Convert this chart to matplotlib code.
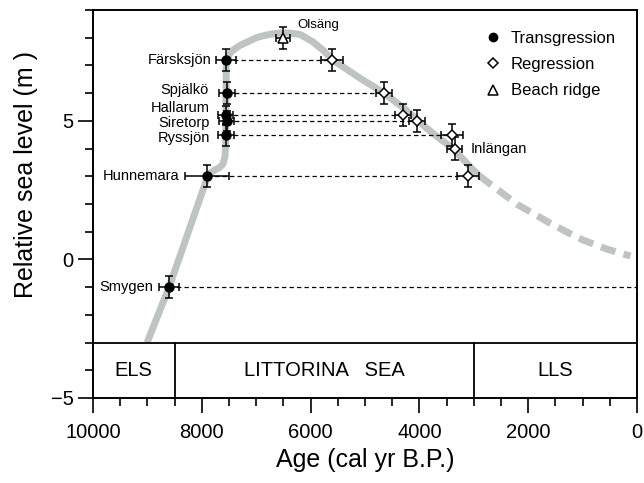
import matplotlib
matplotlib.use('Agg')

from matplotlib import pyplot as plt
from matplotlib.lines import Line2D
import numpy as np

plt.rcParams['font.family'] = ['Liberation Sans', 'DejaVu Sans']

# transgression sites (filled circles)
trans_names = ['Färsksjön', 'Spjälkö', 'Hallarum', 'Siretorp', 'Ryssjön', 'Hunnemara', 'Smygen']
trans_age = [7560, 7540, 7560, 7540, 7560, 7900, 8600]
trans_level = [7.2, 6.0, 5.2, 5.0, 4.5, 3.0, -1.0]
trans_xerr = [180, 150, 140, 140, 150, 400, 180]
trans_yerr = [0.4, 0.4, 0.35, 0.35, 0.4, 0.4, 0.4]
# regression age of the same site (0 -> line runs to present)
trans_pair_age = [5600, 4650, 4300, 4050, 3400, 3100, 0]

# regression sites (open diamonds)
regr_age = [5600, 4650, 4300, 4050, 3400, 3350, 3100]
regr_level = [7.2, 6.0, 5.2, 5.0, 4.5, 4.0, 3.0]
regr_xerr = [200, 150, 150, 145, 200, 140, 200]
regr_yerr = [0.4, 0.4, 0.4, 0.4, 0.4, 0.4, 0.4]

# beach ridge (open triangle)
ridge_age = [6500]
ridge_level = [8.0]
ridge_xerr = [130]
ridge_yerr = [0.4]

# sea-level curve
curve_age = [9006, 8600, 7900, 7840, 7760, 7670, 7610, 7575, 7560, 7555, 7550, 7520, 7480,
             7426, 7300, 7169, 7000, 6875, 6700, 6563, 6400, 6195, 5956, 5772, 5588,
             5350, 5092, 4870, 4650, 4300, 4050, 3860, 3600, 3382, 3200, 3015, 2900]
curve_level = [-3.0, -1.0, 2.95, 3.12, 3.23, 3.32, 3.45, 3.7, 4.2, 5.5, 7.1, 7.3, 7.45,
               7.55, 7.72, 7.84, 8.0, 8.07, 8.14, 8.17, 8.17, 8.12, 7.85, 7.55, 7.19,
               6.88, 6.54, 6.27, 6.0, 5.48, 5.06, 4.72, 4.32, 4.0, 3.62, 3.24, 3.02]
tail_age = [2900, 2206, 1599, 1250, 993, 551, 120]
tail_level = [3.02, 1.99, 1.31, 0.95, 0.70, 0.37, 0.12]

periods = ['ELS', 'LITTORINA   SEA', 'LLS']
period_bounds = [10000, 8500, 3000, 0]

fig = plt.figure(figsize=(6.44, 4.83), dpi=100)
ax = fig.add_axes([0.1444, 0.176, 0.8447, 0.8033])

gray = '#bec4c4'
ax.plot(curve_age, curve_level, color=gray, lw=5, solid_capstyle='butt',
        solid_joinstyle='round', zorder=1)
ax.plot(tail_age, tail_level, color=gray, lw=5, dashes=(2.2, 1.2), zorder=1)

for a0, a1, lev in zip(trans_age, trans_pair_age, trans_level):
    ax.plot([a0, a1], [lev, lev], color='black', lw=0.9, dashes=(3.5, 2.5), zorder=2)

ekw = dict(ecolor='black', elinewidth=1.1, capsize=3, capthick=1.1, zorder=3)
ax.errorbar(trans_age, trans_level, xerr=trans_xerr, yerr=trans_yerr, fmt='o',
            color='black', markersize=6.5, **ekw)
ax.errorbar(regr_age, regr_level, xerr=regr_xerr, yerr=regr_yerr, fmt='D',
            mfc='white', mec='black', mew=1.1, markersize=5, **ekw)
ax.errorbar(ridge_age, ridge_level, xerr=ridge_xerr, yerr=ridge_yerr, fmt='^',
            mfc='white', mec='black', mew=1.1, markersize=7, **ekw)

# site labels
label_pos = {
    'Färsksjön': (7830, 7.2), 'Spjälkö': (7868, 6.1), 'Hallarum': (7850, 5.46),
    'Siretorp': (7850, 4.92), 'Ryssjön': (7850, 4.38), 'Hunnemara': (8419, 3.0),
    'Smygen': (8897, -1.0),
}
for name in trans_names:
    lx, ly = label_pos[name]
    ax.text(lx, ly, name, ha='right', va='center', fontsize=10.5)
ax.text(6250, 8.45, 'Olsäng', ha='left', va='center', fontsize=9.5)
ax.text(3051, 3.97, 'Inlängan', ha='left', va='center', fontsize=10.5)

# period band
ax.axhline(-3, color='black', lw=1.3, zorder=4)
for b in period_bounds[1:-1]:
    ax.plot([b, b], [-5, -3], color='black', lw=1.3, zorder=4)
for name, b0, b1 in zip(periods, period_bounds[:-1], period_bounds[1:]):
    ax.text((b0 + b1) / 2, -4, name, ha='center', va='center', fontsize=14.5)

ax.set_xlim(10000, 0)
ax.set_ylim(-5, 9)
ax.set_xticks(np.arange(0, 10001, 2000))
ax.set_xticks(np.arange(0, 10001, 500), minor=True)
ax.set_yticks([-5, 0, 5])
ax.set_yticks(np.arange(-5, 10, 1), minor=True)
ax.tick_params(which='major', direction='out', length=11, width=1.2, labelsize=14.5, pad=7)
ax.tick_params(which='minor', direction='out', length=6, width=1.2)
ax.tick_params(axis='y', which='major', pad=3)
for s in ax.spines.values():
    s.set_linewidth(1.4)

ax.set_xlabel('Age (cal yr B.P.)', fontsize=18)
ax.set_ylabel('Relative sea level (m )', fontsize=18)
ax.xaxis.set_label_coords(0.5, -0.128)
ax.yaxis.set_label_coords(-0.101, 0.575)

handles = [
    Line2D([], [], ls='none', marker='o', color='black', markersize=6),
    Line2D([], [], ls='none', marker='D', mfc='white', mec='black', mew=1.1, markersize=5),
    Line2D([], [], ls='none', marker='^', mfc='white', mec='black', mew=1.1, markersize=7),
]
ax.legend(handles, ['Transgression', 'Regression', 'Beach ridge'], loc='upper left',
          bbox_to_anchor=(0.692, 0.985), frameon=False, fontsize=12, handlelength=1,
          handletextpad=0.6, labelspacing=0.68)

fig.savefig('out.png', dpi=100)
